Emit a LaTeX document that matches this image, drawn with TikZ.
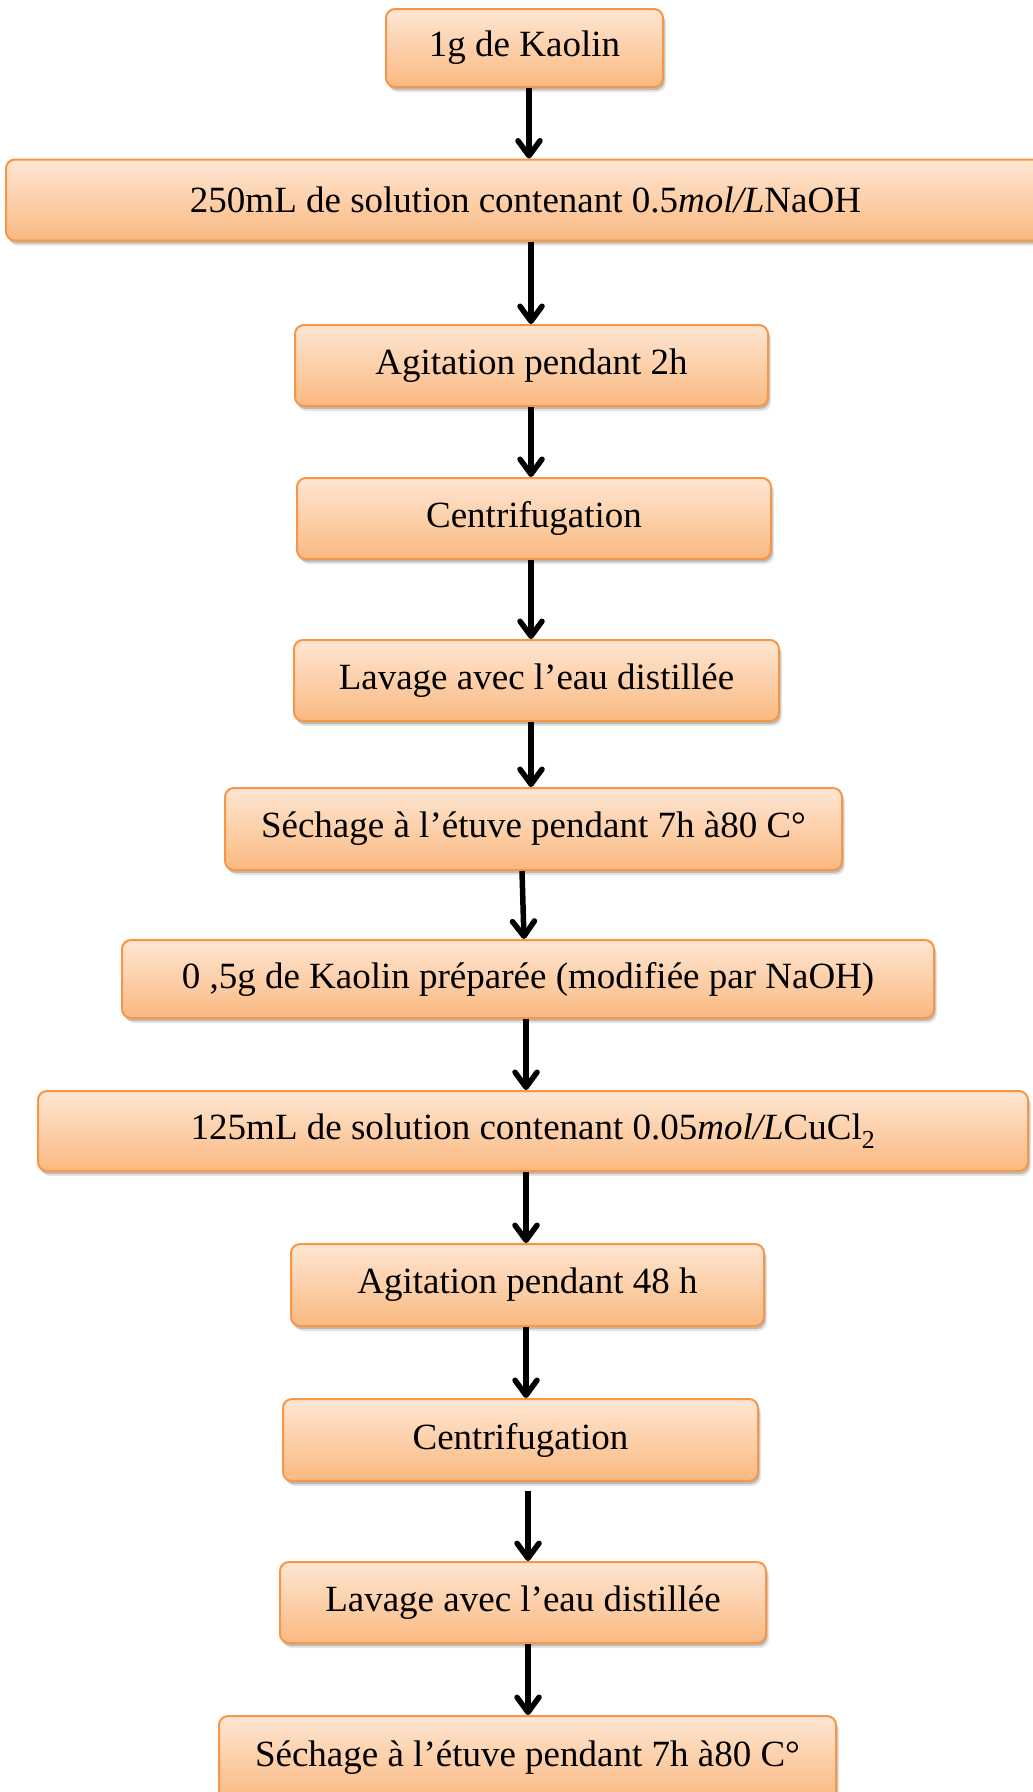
\documentclass[tikz,border=0pt]{standalone}
\usepackage{fontspec}
\setmainfont{Liberation Serif}
\usetikzlibrary{arrows.meta,shadows}

\definecolor{boxline}{HTML}{F79646}
\definecolor{boxtop}{HTML}{FEE6D3}
\definecolor{boxbottom}{HTML}{FAB980}

\tikzset{
  stepbox/.style={
    rectangle, rounded corners=9pt, draw=boxline, line width=2pt,
    top color=boxtop, bottom color=boxbottom,
    inner sep=0pt, align=center,
    font=\fontsize{37}{44}\selectfont,
    drop shadow={shadow xshift=3pt, shadow yshift=-5pt, fill=black, opacity=.10},
    drop shadow={shadow xshift=1.5pt, shadow yshift=-3pt, fill=black, opacity=.18}
  },
  flow/.style={line width=5.5pt, -{Straight Barb[length=15pt,width=22pt,round]}}
}

\begin{document}
\begin{tikzpicture}[x=1pt,y=-1pt]
\useasboundingbox[fill=white] (0,0) rectangle (1033,1792);

% process steps, top to bottom
\node[stepbox, minimum width=277, minimum height=78]  (b1)  at (524.5,48)  {1g de Kaolin};
\node[stepbox, minimum width=1039, minimum height=81] (b2)  at (525.5,200) {250mL de solution contenant 0.5\textit{mol/L}NaOH};
\node[stepbox, minimum width=473, minimum height=81]  (b3)  at (531.5,365.5) {Agitation pendant 2h};
\node[stepbox, minimum width=474, minimum height=81]  (b4)  at (534,518.5) {Centrifugation};
\node[stepbox, minimum width=485, minimum height=81]  (b5)  at (536.5,680.5) {Lavage avec l’eau distillée};
\node[stepbox, minimum width=617, minimum height=82]  (b6)  at (533.5,829) {Séchage à l’étuve pendant 7h à80 C°};
\node[stepbox, minimum width=812, minimum height=78]  (b7)  at (528,979) {0 ,5g de Kaolin préparée (modifiée par NaOH)};
\node[stepbox, minimum width=990, minimum height=80]  (b8)  at (533,1131) {125mL de solution contenant 0.05\textit{mol/L}CuCl\textsubscript{2}};
\node[stepbox, minimum width=473, minimum height=82]  (b9)  at (527.5,1285) {Agitation pendant 48 h};
\node[stepbox, minimum width=475, minimum height=82]  (b10) at (520.5,1440) {Centrifugation};
\node[stepbox, minimum width=486, minimum height=81]  (b11) at (523,1602.5) {Lavage avec l’eau distillée};
\node[stepbox, minimum width=617, minimum height=84]  (b12) at (527.5,1758) {Séchage à l’étuve pendant 7h à80 C°};

% connectors
\draw[flow] ([xshift=4.5pt]b1.south)   -- ([xshift=3.5pt]b2.north);
\draw[flow] ([xshift=5.5pt]b2.south)   -- ([xshift=-0.5pt]b3.north);
\draw[flow] ([xshift=-0.5pt]b3.south)  -- ([xshift=-3pt]b4.north);
\draw[flow] ([xshift=-3pt]b4.south)    -- ([xshift=-5.5pt]b5.north);
\draw[flow] ([xshift=-5.5pt]b5.south)  -- ([xshift=-2.5pt]b6.north);
\draw[flow] ([xshift=-11.5pt]b6.south) -- ([xshift=-4pt]b7.north);
\draw[flow] ([xshift=-2pt]b7.south)    -- ([xshift=-7pt]b8.north);
\draw[flow] ([xshift=-7pt]b8.south)    -- ([xshift=-1.5pt]b9.north);
\draw[flow] ([xshift=-1.5pt]b9.south)  -- ([xshift=5.5pt]b10.north);
\draw[flow] ([xshift=7.5pt,yshift=-9pt]b10.south) -- ([xshift=5pt]b11.north);
\draw[flow] ([xshift=5pt]b11.south)    -- ([xshift=0.5pt]b12.north);
\end{tikzpicture}
\end{document}
